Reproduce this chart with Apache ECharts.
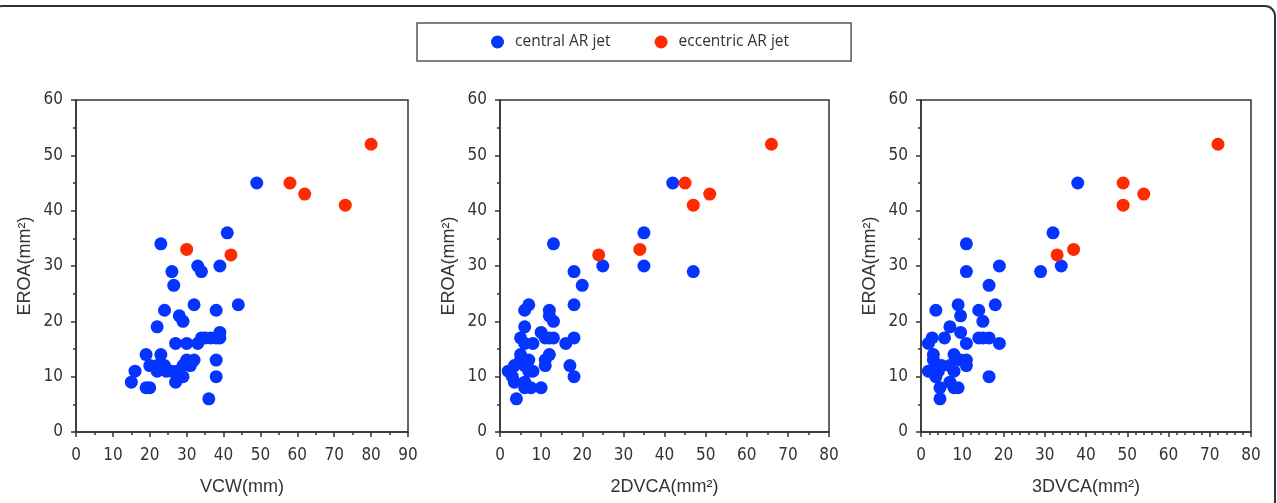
<!DOCTYPE html>
<html><head><meta charset="utf-8">
<script src="https://cdn.jsdelivr.net/npm/echarts@6/dist/echarts.min.js"></script>
<style>html,body{margin:0;padding:0;background:#fff}#c{width:1277px;height:503px}</style>
</head><body><div id="c"></div>
<script>
// Panel 1: VCW (mm) vs EROA (mm²)
var vcwCentral = [[49,45],[41,36],[23,34],[33,30],[34,29],[39,30],[26,29],[26.5,26.5],[32,23],[44,23],[24,22],[38,22],[28,21],[29,20],[22,19],[39,18],[39,17],[27,16],[30,16],[33,16],[34,17],[35,17],[36.5,17],[38,17],[19,14],[23,14],[30,13],[32,13],[38,13],[29,12],[31,12],[20,12],[22,12],[24,12],[22,11],[24.5,11],[26,11],[27.5,11],[16,11],[15,9],[27,9],[29,10],[38,10],[19,8],[20,8],[36,6]];
var vcwEccentric = [[80,52],[58,45],[62,43],[73,41],[30,33],[42,32]];
// Panel 2: 2DVCA (mm²) vs EROA
var dvca2Central = [[42,45],[35,36],[35,30],[25,30],[47,29],[13,34],[18,29],[20,26.5],[18,23],[7,23],[6,22],[12,22],[12,21],[13,20],[6,19],[10,18],[5,17],[6,16],[8,16],[11,17],[12,17],[13,17],[16,16],[18,17],[5,14],[12,14],[7,13],[11,13],[5,13],[3.5,12],[6,12],[11,12],[17,12],[2,11],[8,11],[7,11],[3,10],[18,10],[3.5,9],[6,9],[6,8],[7.5,8],[10,8],[4,6]];
var dvca2Eccentric = [[66,52],[45,45],[51,43],[47,41],[34,33],[24,32]];
// Panel 3: 3DVCA (mm²) vs EROA
var dvca3Central = [[38,45],[32,36],[34,30],[29,29],[11,34],[11,29],[19,30],[16.5,26.5],[18,23],[9,23],[3.6,22],[14,22],[9.6,21],[15,20],[7,19],[9.6,18],[2.7,17],[5.7,17],[1.8,16],[11,16],[14,17],[15,17],[16.5,17],[19,16],[3,14],[8,14],[3,13],[9.6,13],[11,13],[11,12],[4,12],[5,12],[7,12],[1.8,11],[4.2,11],[8,11],[3.6,10],[16.5,10],[7,9],[4.6,8],[8,8],[9,8],[4.6,6]];
var dvca3Eccentric = [[72,52],[49,45],[54,43],[49,41],[37,33],[33,32]];

var seriesNames = ['central AR jet', 'eccentric AR jet'];
var xTitles = ['VCW(mm)', '2DVCA(mm²)', '3DVCA(mm²)'];
var yTitle = 'EROA(mm²)';
var xMax = [90, 80, 80];
var yMax = 60;

var BLUE = '#0533ff', RED = '#ff2a00';
var tickFont = "'Liberation Sans Narrow','Arial Narrow','DejaVu Sans Condensed',sans-serif";
var titleFont = "'Liberation Sans',Arial,sans-serif";
var grids = [
  {left: 76, top: 100, width: 332, height: 332},
  {left: 500, top: 100, width: 329, height: 332},
  {left: 921, top: 100, width: 330, height: 332}
];
grids.forEach(function(g){ g.show = true; g.borderColor = '#333'; g.borderWidth = 1.5; g.backgroundColor = '#fff'; });
var minorSplits = [2, 2, 5];
var xAxes = [], yAxes = [];
for (var i = 0; i < 3; i++) {
  xAxes.push({
    gridIndex: i, type: 'value', min: 0, max: xMax[i], interval: 10,
    name: xTitles[i], nameLocation: 'middle', nameGap: 46,
    nameTextStyle: {fontFamily: titleFont, fontSize: 18, color: '#333'},
    axisLine: {show: true, lineStyle: {color: '#333', width: 1.5}},
    axisTick: {show: true, inside: false, length: 5, lineStyle: {color: '#333', width: 1.5}},
    minorTick: {show: true, splitNumber: minorSplits[i], length: 3, lineStyle: {color: '#333', width: 1.5}},
    axisLabel: {fontFamily: tickFont, fontSize: 17, color: '#333', margin: 15},
    splitLine: {show: false}
  });
  yAxes.push({
    gridIndex: i, type: 'value', min: 0, max: yMax, interval: 10,
    name: yTitle, nameLocation: 'middle', nameGap: 42,
    nameTextStyle: {fontFamily: titleFont, fontSize: 18, color: '#333'},
    axisLine: {show: true, lineStyle: {color: '#333', width: 1.5}},
    axisTick: {show: true, inside: false, length: 5, lineStyle: {color: '#333', width: 1.5}},
    minorTick: {show: true, splitNumber: 2, length: 3, lineStyle: {color: '#333', width: 1.5}},
    axisLabel: {fontFamily: tickFont, fontSize: 17, color: '#333', margin: 13},
    splitLine: {show: false}
  });
}
var panelData = [[vcwCentral, vcwEccentric],[dvca2Central, dvca2Eccentric],[dvca3Central, dvca3Eccentric]];
var series = [];
panelData.forEach(function(p, i){
  series.push({name: seriesNames[0], type: 'scatter', xAxisIndex: i, yAxisIndex: i, data: p[0], symbolSize: 13, itemStyle: {color: BLUE, opacity: 1}});
  series.push({name: seriesNames[1], type: 'scatter', xAxisIndex: i, yAxisIndex: i, data: p[1], symbolSize: 13, itemStyle: {color: RED, opacity: 1}});
});
var chart = echarts.init(document.getElementById('c'), null, {renderer: 'canvas'});
chart.setOption({
  animation: false,
  backgroundColor: '#fff',
  graphic: [{type: 'rect', shape: {x: -8, y: 6, width: 1283, height: 600, r: 10}, style: {fill: 'none', stroke: '#333', lineWidth: 2}, silent: true}],
  legend: {
    data: seriesNames, left: 417, top: 23, orient: 'horizontal',
    padding: [11, 62, 11, 74], itemGap: 44, itemWidth: 13, itemHeight: 13, icon: 'circle',
    borderColor: '#555', borderWidth: 1.5, backgroundColor: '#fff',
    textStyle: {fontFamily: "'Open Sans','Noto Sans',sans-serif", fontSize: 15.5, color: '#333', padding: [0, 0, 0, 6]}
  },
  grid: grids, xAxis: xAxes, yAxis: yAxes, series: series
});
</script></body></html>
